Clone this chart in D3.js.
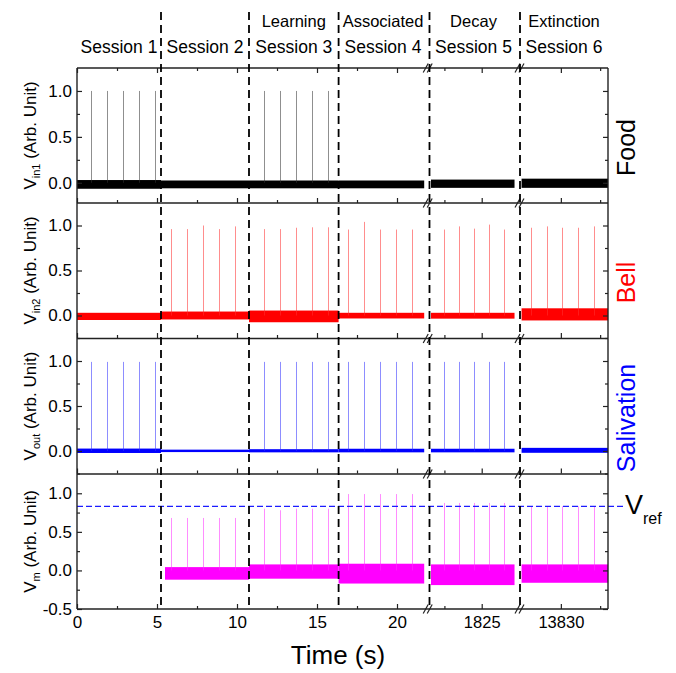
<!DOCTYPE html>
<html>
<head>
<meta charset="utf-8">
<script src="https://cdn.jsdelivr.net/npm/d3@7"></script>
<style>
body { margin: 0; background: #fff; }
svg text { font-family: Arial, "Liberation Sans", sans-serif; fill: #000; }
</style>
</head>
<body>
<svg id="chart"></svg>
<script>
// ---- data ----
const sessionNames = ["Session 1", "Session 2", "Session 3", "Session 4", "Session 5", "Session 6"];
const phaseNames = ["", "", "Learning", "Associated", "Decay", "Extinction"];

// which broken x segment each session lives in, and its time span (s)
const sessionSeg = [0, 0, 0, 0, 1, 2];
const sessionStart = [0, 5.25, 10.75, 16.35, 1821.4, 13827.4];
const sessionEnd = [5.25, 10.75, 16.35, 21.9, 1827.5, 13833];
// recorded trace span per session
const traceStart = [0, 5.25, 10.75, 16.35, 1821.6, 13827.5];
const traceEnd = [5.25, 10.75, 16.35, 21.7, 1827.2, 13833];
const vmTraceStart = 5.5;

// session dividers (dashed lines): [segment, time]
const dividers = [[0, 5.25], [0, 10.75], [0, 16.35], [1, 1821.5], [2, 13827.4]];

// x axis segments
const segDomains = [[0, 21.9], [1821.4, 1827.5], [13827.4, 13833]];
const segMajor = [[0, 5, 10, 15, 20], [1825], [13830]];
const segMinor = [[2.5, 7.5, 12.5, 17.5], [1822.5], [13832.5]];

// pulse times per session
const spikeTimes = [
  [0.85, 1.85, 2.85, 3.85, 4.85],
  [5.88, 6.88, 7.88, 8.88, 9.88],
  [11.69, 12.69, 13.69, 14.69, 15.69],
  [16.94, 17.94, 18.94, 19.94, 20.94],
  [1822.49, 1823.49, 1824.5, 1825.5, 1826.51],
  [13828.12, 13829.1, 13830.09, 13831.11, 13832.11]
];

// pulse amplitudes per session (null = no pulses)
const foodSpikes = [[1, 1, 1, 1, 1], null, [1, 1, 1, 1, 1], null, null, null];
const bellSpikes = [null, [0.96, 0.96, 1.0, 0.96, 0.99], [0.96, 0.96, 0.975, 0.98, 0.98],
  [0.955, 1.04, 0.955, 0.955, 0.955], [0.955, 0.99, 0.965, 1.01, 0.955], [0.975, 0.99, 0.975, 0.975, 0.99]];
const salivationSpikes = [[0.99, 0.99, 0.99, 0.99, 0.99], null, [0.99, 0.99, 0.99, 0.99, 0.99],
  [0.99, 0.99, 0.99, 0.99, 0.99], [0.99, 0.99, 0.99, 0.99, 0.99], null];
const vmSpikes = [null, [0.68, 0.68, 0.68, 0.68, 0.68], [0.80, 0.78, 0.80, 0.80, 0.80],
  [0.99, 0.99, 0.99, 0.99, 0.99], [0.875, 0.875, 0.875, 0.875, 0.875], [0.83, 0.83, 0.83, 0.83, 0.83]];

// baseline noise envelope per session [low, high]
const foodBand = [[-0.065, 0.03], [-0.06, 0.025], [-0.06, 0.025], [-0.06, 0.025], [-0.055, 0.035], [-0.055, 0.045]];
const bellBand = [[-0.05, 0.03], [-0.044, 0.044], [-0.075, 0.055], [-0.033, 0.03], [-0.035, 0.03], [-0.055, 0.08]];
const salivationBand = [[-0.022, 0.027], [-0.012, 0.015], [-0.015, 0.02], [-0.015, 0.025], [-0.015, 0.025], [-0.02, 0.035]];
const vmBand = [null, [-0.12, 0.043], [-0.107, 0.078], [-0.17, 0.087], [-0.19, 0.078], [-0.16, 0.078]];

const vRef = 0.83;

// ---- layout ----
const svgWidth = 676, svgHeight = 673;
const plotLeft = 77, plotRight = 608;
const panelTop = [68, 203, 338.5, 474];
const panelHeight = 135;
const plotBottom = panelTop[3] + panelHeight;

const chart = d3.select("#chart")
    .attr("width", svgWidth)
    .attr("height", svgHeight);

var xScales = [
  d3.scaleLinear().domain(segDomains[0]).range([plotLeft, 427.4]),
  d3.scaleLinear().domain(segDomains[1]).range([428, 519]),
  d3.scaleLinear().domain(segDomains[2]).range([520, plotRight])
];
function xAt(seg, t) { return xScales[seg](t); }

const break1 = (xScales[0].range()[1] + xScales[1].range()[0]) / 2;
const break2 = (xScales[1].range()[1] + xScales[2].range()[0]) / 2;

const panels = [
  {sub: "in1", name: "Food", color: "#000000", spikeColor: "#333", band: foodBand, spikes: foodSpikes,
   domain: [-0.22, 1.25], major: [0, 0.5, 1], minor: [0.25, 0.75], nameColor: "#000"},
  {sub: "in2", name: "Bell", color: "#ff0000", spikeColor: "#ff3030", band: bellBand, spikes: bellSpikes,
   domain: [-0.25, 1.25], major: [0, 0.5, 1], minor: [-0.25, 0.25, 0.75], nameColor: "#ff0000"},
  {sub: "out", name: "Salivation", color: "#0000ff", spikeColor: "#3030ff", band: salivationBand, spikes: salivationSpikes,
   domain: [-0.25, 1.25], major: [0, 0.5, 1], minor: [-0.25, 0.25, 0.75], nameColor: "#0000ff"},
  {sub: "m", name: null, color: "#ff00ff", spikeColor: "#ff30ff", band: vmBand, spikes: vmSpikes,
   domain: [-0.5, 1.25], major: [-0.5, 0, 0.5, 1], minor: [-0.25, 0.25, 0.75], nameColor: null}
];

const fmt = d => d.toFixed(1);

panels.forEach(function(p, pi) {
  const top = panelTop[pi];
  const y = d3.scaleLinear().domain(p.domain).range([top + panelHeight, top]);
  p.y = y;
  const g = chart.append("g");

  // baseline noise bands
  p.band.forEach(function(b, s) {
    if (!b) return;
    const seg = sessionSeg[s];
    let t0 = traceStart[s];
    if (pi == 3 && s == 1) t0 = vmTraceStart;
    const x0 = xAt(seg, t0), x1 = xAt(seg, traceEnd[s]);
    g.append("rect")
      .attr("x", x0).attr("width", x1 - x0)
      .attr("y", y(b[1])).attr("height", y(b[0]) - y(b[1]))
      .attr("fill", p.color);
  });

  // pulses
  p.spikes.forEach(function(hs, s) {
    if (!hs) return;
    const seg = sessionSeg[s];
    g.append("g").selectAll("line")
      .data(hs.map((h, i) => ({t: spikeTimes[s][i], h: h})))
      .enter().append("line")
      .attr("x1", d => Math.round(xAt(seg, d.t)) + 0.5)
      .attr("x2", d => Math.round(xAt(seg, d.t)) + 0.5)
      .attr("y1", y(0))
      .attr("y2", d => y(d.h))
      .attr("stroke", p.spikeColor)
      .attr("stroke-opacity", 0.55)
      .attr("stroke-width", 1);
  });

  // left axis (inward ticks)
  const left = g.append("g").attr("transform", `translate(${plotLeft},0)`);
  left.call(d3.axisLeft(y).tickValues(p.major).tickSize(-5).tickPadding(5).tickFormat(fmt));
  left.append("g").call(d3.axisLeft(y).tickValues(p.minor).tickSize(-3).tickFormat(""));
  left.selectAll("text").attr("font-size", 17).attr("fill", "#000").attr("font-family", null);

  const right = g.append("g").attr("transform", `translate(${plotRight},0)`);
  right.call(d3.axisRight(y).tickValues(p.major).tickSize(-5).tickFormat(""));
  right.append("g").call(d3.axisRight(y).tickValues(p.minor).tickSize(-3).tickFormat(""));

  // bottom axis of every panel, top axis only on the first
  xScales.forEach(function(xs, seg) {
    const bot = g.append("g").attr("transform", `translate(0,${top + panelHeight})`);
    const ax = d3.axisBottom(xs).tickValues(segMajor[seg]).tickSize(-5).tickPadding(7)
      .tickFormat(d => String(d));
    if (pi < 3) ax.tickFormat("");
    bot.call(ax);
    bot.append("g").call(d3.axisBottom(xs).tickValues(segMinor[seg]).tickSize(-3).tickFormat(""));
    bot.selectAll("text").attr("font-size", seg == 0 ? 17 : 16.5).attr("fill", "#000").attr("font-family", null);
    if (pi == 0) {
      const tp = g.append("g").attr("transform", `translate(0,${top})`);
      tp.call(d3.axisTop(xs).tickValues(segMajor[seg]).tickSize(-5).tickFormat(""));
      tp.append("g").call(d3.axisTop(xs).tickValues(segMinor[seg]).tickSize(-3).tickFormat(""));
    }
  });

  g.selectAll(".domain").remove();
  g.selectAll(".tick line").attr("stroke", "#222").attr("stroke-width", 1.2);

  // y label
  const lab = g.append("text")
    .attr("transform", `translate(36,${top + panelHeight / 2}) rotate(-90)`)
    .attr("text-anchor", "middle")
    .attr("font-size", 17);
  lab.append("tspan").text("V");
  lab.append("tspan").attr("font-size", 11).attr("dy", 4).text(p.sub);
  lab.append("tspan").attr("dy", -4).text(" (Arb. Unit)");

  // right-side panel name
  if (p.name) {
    g.append("text")
      .attr("transform", `translate(635,${top + panelHeight / 2 + 12}) rotate(-90)`)
      .attr("text-anchor", "middle")
      .attr("font-size", 25)
      .style("fill", p.nameColor)
      .text(p.name);
  }
});

// V_ref dashed line in the Vm panel
const yVm = panels[3].y;
chart.append("line")
  .attr("x1", plotLeft).attr("x2", 623)
  .attr("y1", yVm(vRef)).attr("y2", yVm(vRef))
  .attr("stroke", "#1c1cff").attr("stroke-width", 1.2)
  .attr("stroke-dasharray", "6,3");
const vr = chart.append("text")
  .attr("x", 625).attr("y", yVm(vRef) + 8)
  .attr("font-size", 27);
vr.append("tspan").text("V");
vr.append("tspan").attr("font-size", 16).attr("dy", 10).text("ref");

// frame
const frame = chart.append("g").attr("stroke", "#222").attr("stroke-width", 1.4).attr("fill", "none");
panelTop.concat([plotBottom]).forEach(function(yy) {
  frame.append("line").attr("x1", plotLeft).attr("x2", plotRight).attr("y1", yy).attr("y2", yy);
  [break1, break2].forEach(function(bx) {
    [-2, 2].forEach(function(dx) {
      frame.append("line")
        .attr("x1", bx + dx - 2.5).attr("x2", bx + dx + 2.5)
        .attr("y1", yy + 4.5).attr("y2", yy - 4.5)
        .attr("stroke-width", 1.2);
    });
  });
});
frame.append("line").attr("x1", plotLeft).attr("x2", plotLeft).attr("y1", panelTop[0]).attr("y2", plotBottom);
frame.append("line").attr("x1", plotRight).attr("x2", plotRight).attr("y1", panelTop[0]).attr("y2", plotBottom);

// session dividers
chart.append("g").selectAll("line")
  .data(dividers)
  .enter().append("line")
  .attr("x1", d => xAt(d[0], d[1]))
  .attr("x2", d => xAt(d[0], d[1]))
  .attr("y1", 12).attr("y2", plotBottom)
  .attr("stroke", "#000").attr("stroke-width", 1.8)
  .attr("stroke-dasharray", "8,5");

// session / phase labels
sessionNames.forEach(function(name, s) {
  const seg = sessionSeg[s];
  const cx = (xAt(seg, sessionStart[s]) + xAt(seg, sessionEnd[s])) / 2;
  chart.append("text").attr("x", cx).attr("y", 53)
    .attr("text-anchor", "middle").attr("font-size", 17.5).text(name);
  if (phaseNames[s]) {
    chart.append("text").attr("x", cx).attr("y", 27)
      .attr("text-anchor", "middle").attr("font-size", 16.5).text(phaseNames[s]);
  }
});

// x title
chart.append("text")
  .attr("x", 338).attr("y", 664)
  .attr("text-anchor", "middle")
  .attr("font-size", 26)
  .text("Time (s)");
</script>
</body>
</html>
